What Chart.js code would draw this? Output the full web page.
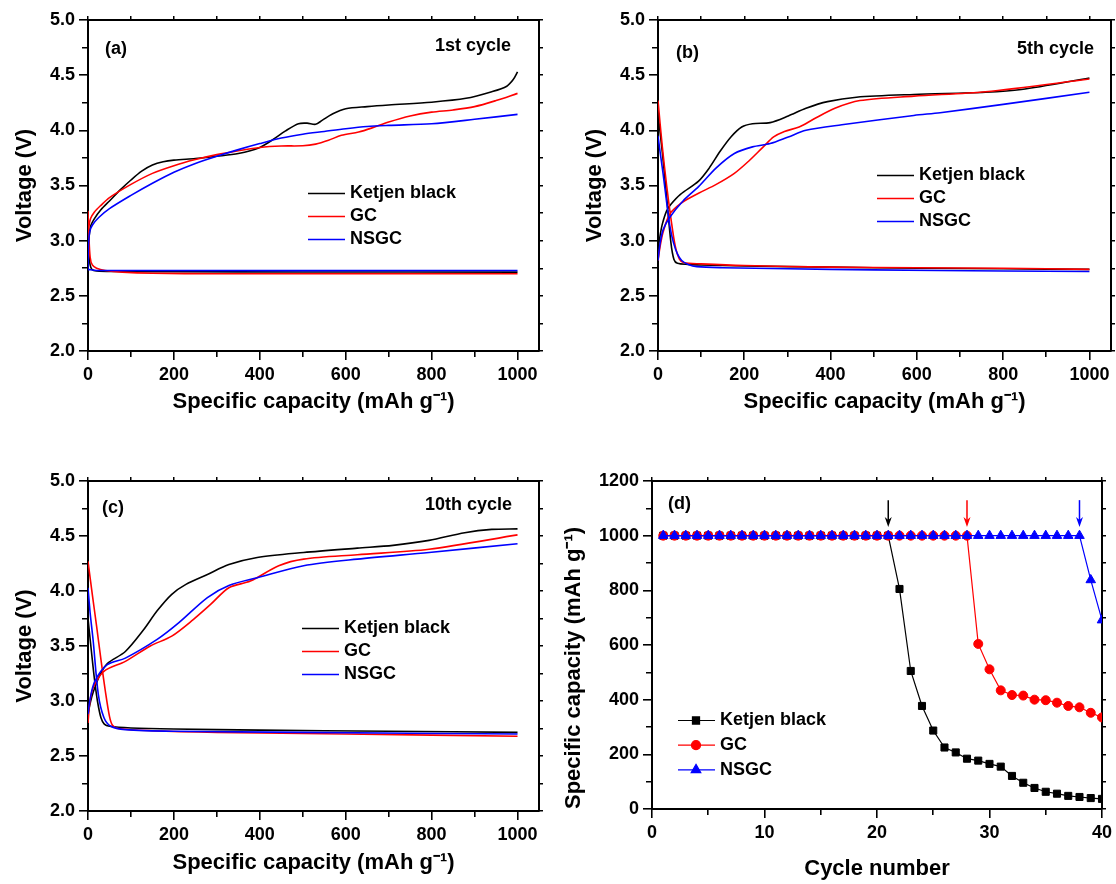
<!DOCTYPE html>
<html>
<head>
<meta charset="utf-8">
<script src="https://cdn.jsdelivr.net/npm/chart.js@4.4.1/dist/chart.umd.min.js"></script>
<style>
  body { margin: 0; background: #fff; }
  #wrap { position: relative; width: 1116px; height: 884px; background: #fff; }
  #wrap canvas { position: absolute; left: 0; top: 0; }
</style>
</head>
<body>
<div id="wrap">
  <canvas id="pa" width="1116" height="884"></canvas>
  <canvas id="pb" width="1116" height="884"></canvas>
  <canvas id="pc" width="1116" height="884"></canvas>
  <canvas id="pd" width="1116" height="884"></canvas>
</div>
<script>
// 材料名と色
const materials = ["Ketjen black", "GC", "NSGC"];
const colors = ["#000000", "#ff0000", "#0000ff"];

// (a) 1st cycle  [容量 mAh/g, 電圧 V]
const aKbDis = [[0,3.02],[2,2.88],[5,2.78],[9,2.74],[20,2.725],[60,2.72],[200,2.718],[500,2.716],[1000,2.715]];
const aKbChg = [[0,2.75],[2,3.0],[6,3.13],[15,3.2],[30,3.28],[50,3.36],[75,3.46],[100,3.55],[125,3.63],[150,3.685],[175,3.715],[200,3.73],[250,3.745],[300,3.765],[350,3.79],[400,3.845],[430,3.915],[460,3.995],[490,4.06],[510,4.065],[530,4.055],[545,4.09],[570,4.15],[600,4.195],[650,4.215],[700,4.23],[800,4.255],[880,4.29],[940,4.35],[975,4.40],[990,4.46],[1000,4.53]];
const aGcDis = [[0,3.27],[2,3.05],[5,2.85],[10,2.78],[20,2.75],[40,2.73],[80,2.715],[150,2.705],[300,2.70],[600,2.70],[1000,2.70]];
const aGcChg = [[0,2.95],[2,3.12],[6,3.2],[15,3.26],[30,3.32],[50,3.39],[100,3.51],[150,3.61],[200,3.68],[250,3.735],[300,3.78],[350,3.815],[400,3.845],[450,3.858],[500,3.86],[530,3.875],[560,3.91],[590,3.955],[630,3.985],[660,4.02],[700,4.075],[750,4.13],[800,4.165],[850,4.185],[900,4.215],[950,4.27],[1000,4.335]];
const aNsDis = [[0,2.74],[20,2.73],[1000,2.73]];
const aNsChg = [[0,2.73],[1,2.95],[4,3.08],[10,3.14],[25,3.21],[50,3.29],[100,3.41],[150,3.52],[200,3.62],[250,3.70],[300,3.765],[350,3.825],[400,3.88],[450,3.93],[500,3.965],[550,3.99],[600,4.015],[650,4.035],[700,4.045],[800,4.06],[900,4.10],[1000,4.145]];

// (b) 5th cycle
const bKbDis = [[0,4.15],[10,3.8],[20,3.4],[30,2.98],[37,2.83],[45,2.795],[70,2.785],[100,2.78],[200,2.77],[400,2.76],[600,2.75],[800,2.745],[1000,2.74]];
const bKbChg = [[0,2.92],[5,3.05],[10,3.15],[20,3.27],[30,3.33],[52,3.42],[94,3.54],[119,3.66],[144,3.81],[169,3.94],[194,4.03],[219,4.06],[260,4.07],[302,4.13],[343,4.20],[393,4.26],[460,4.30],[593,4.325],[759,4.345],[842,4.37],[1000,4.475]];
const bGcDis = [[0,4.27],[10,3.85],[20,3.5],[30,3.2],[40,2.95],[50,2.83],[60,2.80],[100,2.79],[200,2.775],[400,2.76],[600,2.755],[800,2.75],[1000,2.74]];
const bGcChg = [[0,2.82],[5,2.95],[12,3.08],[27,3.24],[50,3.33],[61,3.36],[94,3.43],[135,3.51],[177,3.61],[210,3.72],[244,3.85],[268,3.94],[293,3.99],[327,4.03],[360,4.10],[410,4.20],[468,4.27],[593,4.31],[759,4.35],[1000,4.465]];
const bNsDis = [[0,3.95],[5,3.8],[12,3.6],[20,3.35],[28,3.12],[36,2.98],[45,2.88],[55,2.82],[70,2.785],[90,2.765],[150,2.755],[300,2.745],[500,2.735],[800,2.725],[1000,2.72]];
const bNsChg = [[0,2.82],[5,2.98],[12,3.1],[27,3.21],[58,3.36],[94,3.49],[135,3.66],[177,3.79],[219,3.85],[260,3.88],[302,3.94],[343,4.00],[426,4.05],[593,4.135],[654,4.16],[800,4.235],[1000,4.345]];

// (c) 10th cycle
const cKbDis = [[0,3.75],[8,3.45],[15,3.2],[22,3.0],[30,2.85],[38,2.79],[50,2.77],[100,2.755],[200,2.745],[400,2.735],[700,2.725],[1000,2.715]];
const cKbChg = [[0,2.88],[5,2.98],[12,3.08],[28,3.24],[45,3.34],[87,3.45],[128,3.64],[161,3.82],[195,3.97],[228,4.06],[278,4.15],[328,4.24],[394,4.305],[502,4.35],[627,4.39],[710,4.415],[794,4.46],[877,4.53],[940,4.56],[1000,4.565]];
const cGcDis = [[0,4.27],[10,3.97],[20,3.68],[30,3.38],[40,3.1],[50,2.86],[57,2.78],[70,2.75],[150,2.73],[300,2.715],[600,2.70],[1000,2.68]];
const cGcChg = [[0,2.8],[4,2.98],[12,3.12],[37,3.27],[87,3.36],[145,3.50],[195,3.59],[245,3.74],[286,3.88],[328,4.03],[378,4.09],[444,4.23],[502,4.29],[627,4.33],[794,4.38],[1000,4.51]];
const cNsDis = [[0,4.03],[5,3.8],[12,3.55],[24,3.06],[37,2.85],[53,2.77],[87,2.74],[200,2.725],[500,2.715],[1000,2.70]];
const cNsChg = [[0,2.88],[5,3.02],[16,3.18],[45,3.33],[87,3.39],[161,3.56],[211,3.71],[278,3.94],[328,4.05],[394,4.12],[502,4.23],[627,4.29],[794,4.35],[1000,4.43]];

// (d) サイクル特性
const cycles = [1,2,3,4,5,6,7,8,9,10,11,12,13,14,15,16,17,18,19,20,21,22,23,24,25,26,27,28,29,30,31,32,33,34,35,36,37,38,39,40];
const kbCap = [1000,1000,1000,1000,1000,1000,1000,1000,1000,1000,1000,1000,1000,1000,1000,1000,1000,1000,1000,1000,1000,805,505,377,287,225,207,184,177,165,155,121,96,77,63,56,48,44,40,37];
const gcCap = [1000,1000,1000,1000,1000,1000,1000,1000,1000,1000,1000,1000,1000,1000,1000,1000,1000,1000,1000,1000,1000,1000,1000,1000,1000,1000,1000,1000,604,511,434,417,415,400,398,389,377,372,352,335];
const nsCap = [1000,1000,1000,1000,1000,1000,1000,1000,1000,1000,1000,1000,1000,1000,1000,1000,1000,1000,1000,1000,1000,1000,1000,1000,1000,1000,1000,1000,1000,1000,1000,1000,1000,1000,1000,1000,1000,1000,838,691];
const arrowCycles = [21, 28, 38];
const arrowFrom = 1130, arrowTo = 1032;

const FONT = "'Liberation Sans', Arial, sans-serif";
Chart.defaults.font.family = FONT;
Chart.defaults.font.weight = "bold";
Chart.defaults.color = "#000";

const isMajor = (v, m) => Math.abs(v / m - Math.round(v / m)) < 1e-6;

// 放電→充電を1本のデータセットに（間にnullで切れ目）
function curve(dis, chg) {
  const pts = dis.map((p) => ({ x: p[0], y: p[1] }));
  pts.push({ x: dis[dis.length - 1][0], y: null });
  return pts.concat(chg.map((p) => ({ x: p[0], y: p[1] })));
}

// 主軸（目盛り長：主9px、副6px）
function mainAxis(pos, min, max, step, major, fmt, title, size, align) {
  const horiz = pos === "bottom";
  return {
    type: "linear", position: pos, min, max,
    border: { display: true, width: 2, color: "#000" },
    grid: {
      drawOnChartArea: false, tickLength: 9, lineWidth: 1.6, color: "#000",
      tickBorderDash: (c) => (isMajor(c.tick.value, major) ? [] : horiz ? [5, 20] : [0, 3, 6, 20]),
    },
    ticks: {
      stepSize: step, includeBounds: false, autoSkip: false, maxRotation: 0, padding: 4,
      font: { size: 18, weight: "bold" }, color: "#000",
      callback: (v) => (isMajor(v, major) ? fmt(v) : ""),
    },
    title: {
      display: true, text: title, align: align || "center", color: "#000",
      font: { size: 22, weight: "bold" }, padding: { top: 4, bottom: 0 },
    },
    afterFit: (s) => { if (horiz) s.height = size; else s.width = size; },
  };
}

// 上・右の枠線（短い目盛りのみ）
function mirrorAxis(pos, min, max, step) {
  return {
    type: "linear", position: pos, min, max,
    border: { display: true, width: 2, color: "#000" },
    grid: { drawOnChartArea: false, tickLength: 4, lineWidth: 1.5, color: "#000" },
    ticks: { display: false, stepSize: step, includeBounds: false },
    afterFit: (s) => { if (pos === "top") s.height = 4; else s.width = 4; },
  };
}

function pad(b) {
  return { left: b.L - b.wY, right: 1116 - b.R - 4, top: b.T - 4, bottom: 884 - b.B - b.hX };
}

// 注記・凡例・矢印を描くプラグイン
function makeAnnot(texts, legend, arrows) {
  return {
    id: "annot",
    afterDraw(chart) {
      const ctx = chart.ctx;
      ctx.save();
      ctx.font = "bold 18px " + FONT;
      ctx.textBaseline = "middle";
      ctx.fillStyle = "#000";
      texts.forEach((t) => {
        ctx.textAlign = t.align;
        ctx.fillText(t.text, t.x, t.y);
      });
      chart.data.datasets.forEach((ds, i) => {
        const y = legend.y + i * legend.dy;
        ctx.strokeStyle = ds.borderColor;
        ctx.lineWidth = legend.markers ? 1.2 : 1.6;
        ctx.beginPath();
        ctx.moveTo(legend.x, y);
        ctx.lineTo(legend.x + 37, y);
        ctx.stroke();
        if (legend.markers) {
          ctx.fillStyle = ds.backgroundColor;
          Chart.helpers.drawPoint(ctx, { pointStyle: ds.pointStyle, radius: ds.pointRadius, borderWidth: 1, rotation: 0 }, legend.x + 18, y);
        }
        ctx.fillStyle = "#000";
        ctx.textAlign = "left";
        ctx.fillText(ds.label, legend.x + 42, y);
      });
      if (arrows) {
        const xs = chart.scales.x, ys = chart.scales.y;
        arrows.forEach((a) => {
          const x = xs.getPixelForValue(a.cycle);
          const y0 = ys.getPixelForValue(arrowFrom), y1 = ys.getPixelForValue(arrowTo);
          ctx.strokeStyle = a.color;
          ctx.fillStyle = a.color;
          ctx.lineWidth = 1.5;
          ctx.beginPath();
          ctx.moveTo(x, y0);
          ctx.lineTo(x, y1 - 6);
          ctx.stroke();
          ctx.beginPath();
          ctx.moveTo(x, y1);
          ctx.lineTo(x - 3.5, y1 - 10);
          ctx.lineTo(x, y1 - 7);
          ctx.lineTo(x + 3.5, y1 - 10);
          ctx.closePath();
          ctx.fill();
        });
      }
      ctx.restore();
    },
  };
}

function voltageChart(id, box, curves, texts, legend) {
  const datasets = materials.map((name, i) => ({
    label: name,
    data: curve(curves[i][0], curves[i][1]),
    borderColor: colors[i], backgroundColor: colors[i],
    borderWidth: 1.6, pointRadius: 0, tension: 0.3, order: 3 - i, spanGaps: false,
  }));
  new Chart(document.getElementById(id), {
    type: "line",
    data: { datasets },
    options: {
      responsive: false, animation: false, events: [],
      layout: { padding: pad(box) },
      plugins: { legend: { display: false }, tooltip: { enabled: false } },
      scales: {
        x: mainAxis("bottom", 0, 1050, 100, 200, (v) => String(v), "Specific capacity (mAh g\u207B\u00B9)", box.hX),
        y: mainAxis("left", 2, 5, 0.25, 0.5, (v) => v.toFixed(1), "Voltage (V)", box.wY),
        x2: mirrorAxis("top", 0, 1050, 100),
        y2: mirrorAxis("right", 2, 5, 0.25),
      },
    },
    plugins: [makeAnnot(texts, legend)],
  });
}

voltageChart("pa", { L: 88, R: 539, T: 20, B: 351, wY: 80, hX: 64 },
  [[aKbDis, aKbChg], [aGcDis, aGcChg], [aNsDis, aNsChg]],
  [{ text: "(a)", x: 105, y: 49, align: "left" }, { text: "1st cycle", x: 511, y: 46, align: "right" }],
  { x: 308, y: 193.5, dy: 23 });

voltageChart("pb", { L: 658, R: 1111, T: 20, B: 351, wY: 80, hX: 64 },
  [[bKbDis, bKbChg], [bGcDis, bGcChg], [bNsDis, bNsChg]],
  [{ text: "(b)", x: 676, y: 53, align: "left" }, { text: "5th cycle", x: 1094, y: 49, align: "right" }],
  { x: 877, y: 175.5, dy: 23 });

voltageChart("pc", { L: 88, R: 539, T: 481, B: 811, wY: 80, hX: 65 },
  [[cKbDis, cKbChg], [cGcDis, cGcChg], [cNsDis, cNsChg]],
  [{ text: "(c)", x: 102, y: 508, align: "left" }, { text: "10th cycle", x: 512, y: 505, align: "right" }],
  { x: 302, y: 628.5, dy: 23 });

// (d)
const boxD = { L: 652, R: 1103, T: 481, B: 809, wY: 95, hX: 73 };
const toPts = (vals) => cycles.map((c, i) => ({ x: c, y: vals[i] }));
const styleD = [
  { style: "rect", r: 5 },
  { style: "circle", r: 4.5 },
  { style: "triangle", r: 5.5 },
];
const capSets = [kbCap, gcCap, nsCap];
new Chart(document.getElementById("pd"), {
  type: "line",
  data: {
    datasets: materials.map((name, i) => ({
      label: name, data: toPts(capSets[i]),
      borderColor: colors[i], backgroundColor: colors[i], borderWidth: 1.2,
      pointStyle: styleD[i].style, pointRadius: styleD[i].r, pointBorderWidth: 1,
      tension: 0, order: 3 - i,
    })),
  },
  options: {
    responsive: false, animation: false, events: [],
    layout: { padding: pad(boxD) },
    plugins: { legend: { display: false }, tooltip: { enabled: false } },
    scales: {
      x: mainAxis("bottom", 0, 40, 5, 10, (v) => String(v), "Cycle number", boxD.hX),
      y: mainAxis("left", 0, 1200, 100, 200, (v) => String(v), "Specific capacity (mAh g\u207B\u00B9)", boxD.wY, "start"),
      x2: mirrorAxis("top", 0, 40, 5),
      y2: mirrorAxis("right", 0, 1200, 100),
    },
  },
  plugins: [makeAnnot(
    [{ text: "(d)", x: 668, y: 504, align: "left" }],
    { x: 678, y: 720.5, dy: 24.7, markers: true },
    arrowCycles.map((c, i) => ({ cycle: c, color: colors[i] }))
  )],
});
</script>
</body>
</html>
